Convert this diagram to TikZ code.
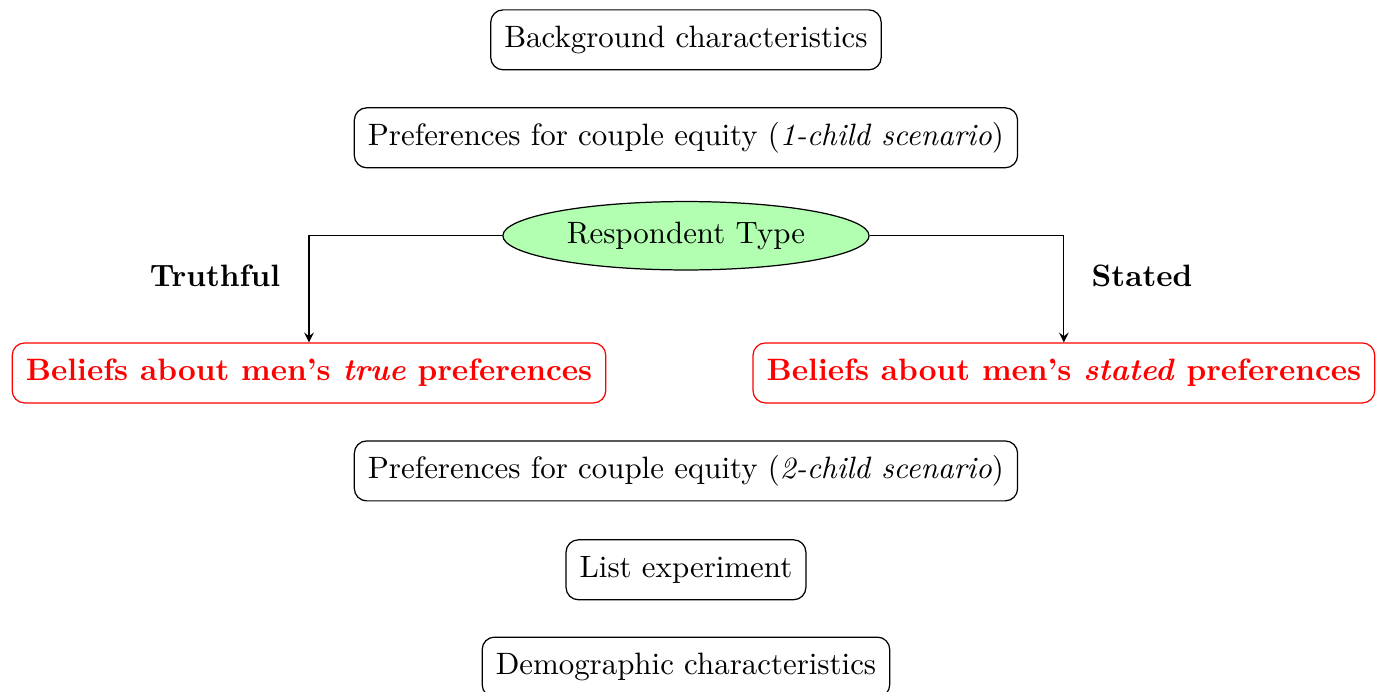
\documentclass[tikz,border=0pt]{standalone}
\usetikzlibrary{shapes.geometric}

\begin{document}
\begin{tikzpicture}[
	box/.style={draw, rounded corners, minimum height=19.4pt, inner xsep=4.4pt},
	redbox/.style={box, draw=red, text=red, font=\bfseries},
	typenode/.style={draw, ellipse, fill=green!30}]
	
	\useasboundingbox (-222pt,-211pt) rectangle (225.9pt,12.9pt);
	
	\node[box] (bg) at (0,0) {Background characteristics};
	\node[box] (prefone) at (0,-31.7pt) {Preferences for couple equity (\textit{1-child scenario})};
	\node[typenode] (type) at (0,-63.4pt) {Respondent Type};
	
	\node[redbox] (true) at (-122pt,-107.8pt) {Beliefs about men's \textit{true} preferences};
	\node[redbox] (stated) at (122.3pt,-107.8pt) {Beliefs about men's \textit{stated} preferences};
	
	\node[font=\bfseries] (truthlab) at (-152.4pt,-76.4pt) {Truthful};
	\node[font=\bfseries] (statedlab) at (147.6pt,-76.4pt) {Stated};
	
	\draw[-stealth] (type.west) -| (true.north);
	\draw[-stealth] (type.east) -| (stated.north);
	
	\node[box] (preftwo) at (0,-139.5pt) {Preferences for couple equity (\textit{2-child scenario})};
	\node[box] (list) at (0,-171.5pt) {List experiment};
	\node[box] (demo) at (0,-203pt) {Demographic characteristics};
	
\end{tikzpicture}
\end{document}
